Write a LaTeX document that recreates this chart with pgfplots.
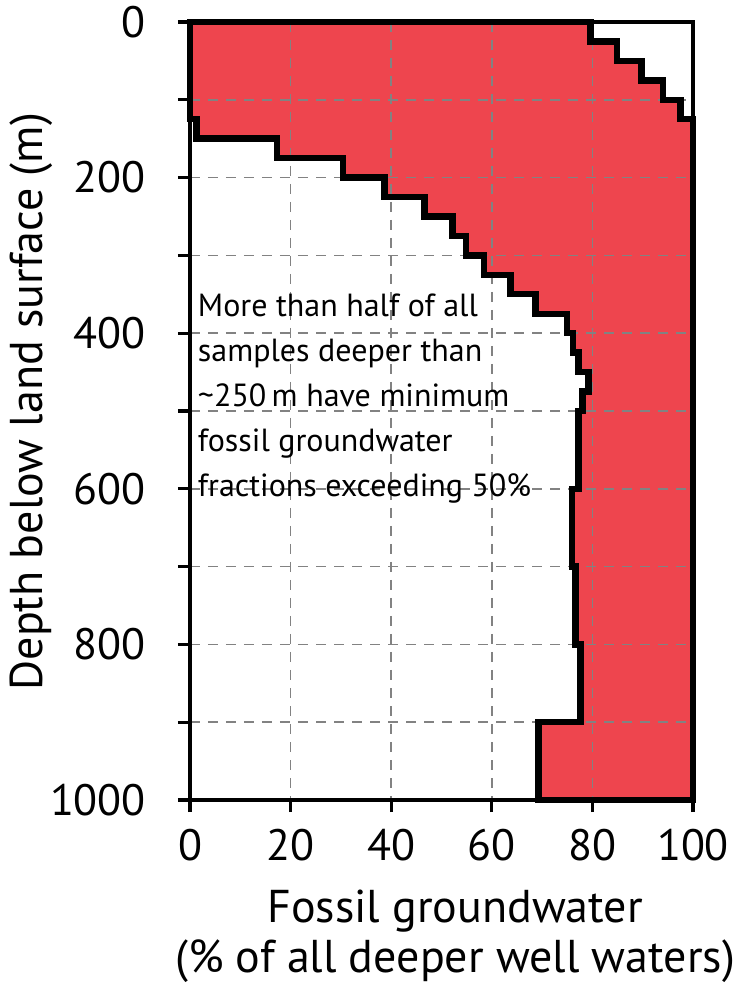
\documentclass[border=0pt]{standalone}
\usepackage{fontspec}
\setmainfont{PT Sans}
\usepackage{pgfplots}
\usepackage{pgfplotstable}
\pgfplotsset{compat=1.18}
\definecolor{fossred}{RGB}{238,69,78}
\definecolor{gridgray}{RGB}{130,130,130}

\pgfplotstableread{
x depth
0 0
79.6 0
79.6 25
84.9 25
84.9 50
89.8 50
89.8 75
94.0 75
94.0 100
97.5 100
97.5 125
100 125
100 1000
69.3 1000
69.3 900
77.6 900
77.6 800
76.6 800
76.6 700
75.9 700
75.9 600
77.2 600
77.2 500
78.0 500
78.0 475
79.2 475
79.2 450
77.2 450
77.2 425
76.2 425
76.2 400
75.0 400
75.0 375
68.7 375
68.7 350
63.7 350
63.7 325
58.5 325
58.5 300
54.9 300
54.9 275
52.2 275
52.2 250
46.6 250
46.6 225
38.7 225
38.7 200
30.4 200
30.4 175
17.3 175
17.3 150
1.3 150
1.3 125
0 125
}\fossil

\begin{document}
\begin{tikzpicture}
\begin{axis}[
  at={(0,0)}, anchor=south west,
  set layers,
  scale only axis,
  width=251.5pt, height=389pt,
  xmin=0, xmax=100, ymin=0, ymax=1000,
  y dir=reverse,
  clip=false,
  axis line style={line width=2pt},
  xtick={0,20,...,100},
  ytick={0,100,...,1000},
  yticklabels={0,,200,,400,,600,,800,,1000},
  tick align=outside,
  xtick pos=bottom, ytick pos=left,
  major tick length=6pt,
  tick style={line width=1.6pt, black},
  grid=major,
  major grid style={gridgray, line width=0.8pt, dash pattern=on 5pt off 4pt},
  /pgf/number format/assume math mode=true,
  ticklabel style={font=\fontsize{22}{26}\selectfont},
  yticklabel style={xshift=-12.5pt},
  xticklabel style={yshift=-5pt},
  xlabel={Fossil groundwater\\(\% of all deeper well waters)},
  ylabel={Depth below land surface (m)},
  label style={font=\fontsize{23}{25}\selectfont},
  xlabel style={at={(axis description cs:0.527,-0.175)}, anchor=center, align=center, inner sep=0pt},
  ylabel style={at={(axis description cs:-0.315,0.512)}, anchor=center},
]
\addplot[on layer=axis background, fill=fossred, draw=none] table[x=x,y=depth] {\fossil} --cycle;
\addplot[black, line width=3.2pt, line join=miter] table[x=x,y=depth] {\fossil} --cycle;
\node[anchor=north west, align=left, inner sep=0pt, font=\fontsize{16}{22.5}\selectfont]
  at (axis cs:1.5,349) {More than half of all\\samples deeper than\\\textasciitilde250\,m have minimum\\fossil groundwater\\fractions exceeding 50\%};
\end{axis}
\pgfresetboundingbox
\path[use as bounding box] (-95pt,-93pt) rectangle (276pt,400pt);
\end{tikzpicture}
\end{document}
